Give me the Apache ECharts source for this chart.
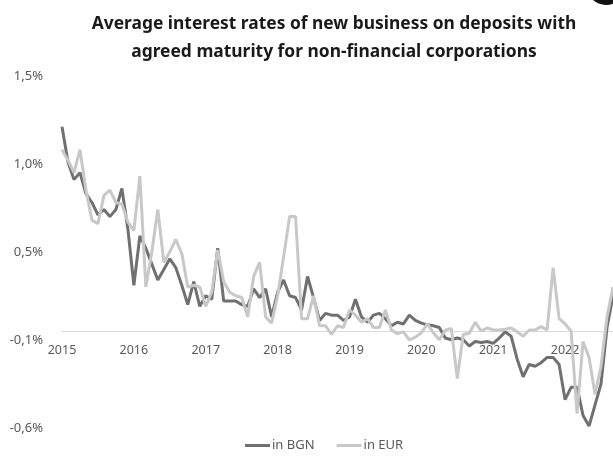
<!DOCTYPE html>
<html>
<head>
<meta charset="utf-8">
<script src="https://cdn.jsdelivr.net/npm/echarts@6/dist/echarts.min.js"></script>
<style>html,body{margin:0;padding:0;background:#fff;}#c{width:613px;height:458px;}</style>
</head>
<body>
<div id="c"></div>
<script>
const titleText = 'Average interest rates of new business on deposits with\nagreed maturity for non-financial corporations';
const years = ['2015','2016','2017','2018','2019','2020','2021','2022'];
const yTickLabels = ['-0,6%','-0,1%','0,5%','1,0%','1,5%'];
const seriesNames = ['in BGN','in EUR'];

const bgn = [
 1.16,0.96,0.86,0.90,0.78,0.73,0.66,0.69,0.65,0.69,0.81,0.58,
 0.26,0.54,0.47,0.38,0.29,0.35,0.41,0.36,0.26,0.15,0.28,0.14,
 0.20,0.18,0.47,0.17,0.17,0.17,0.15,0.14,0.24,0.19,0.24,0.08,
 0.22,0.29,0.20,0.19,0.12,0.31,0.19,0.06,0.10,0.09,0.09,0.06,
 0.08,0.18,0.08,0.05,0.09,0.10,0.07,0.03,0.05,0.04,0.09,0.06,
 0.045,0.035,0.03,0.02,-0.04,-0.05,-0.04,-0.05,-0.085,-0.06,-0.065,-0.06,
 -0.07,-0.04,-0.005,-0.03,-0.16,-0.26,-0.19,-0.20,-0.18,-0.15,-0.15,-0.19,
 -0.39,-0.32,-0.32,-0.48,-0.54,-0.42,-0.30,0.02,0.20
];
const eur = [
 1.03,0.97,0.90,1.03,0.80,0.63,0.61,0.77,0.80,0.73,0.72,0.62,
 0.57,0.88,0.25,0.45,0.69,0.39,0.45,0.52,0.44,0.25,0.26,0.25,
 0.14,0.22,0.46,0.28,0.22,0.20,0.19,0.08,0.31,0.39,0.08,0.045,
 0.20,0.42,0.65,0.65,0.07,0.07,0.20,0.03,0.03,-0.02,0.03,0.02,
 0.12,0.09,0.05,0.07,0.02,0.02,0.12,0.006,-0.015,-0.005,-0.05,-0.035,
 -0.01,0.04,-0.01,-0.05,0.005,0.015,-0.27,-0.02,-0.013,0.05,0.0,0.017,
 0.006,0.006,0.01,0.017,-0.004,-0.03,0.006,0.006,0.025,0.006,0.36,0.07,
 0.04,0.0,-0.47,-0.06,-0.15,-0.36,-0.20,0.08,0.25
];

const categories = [];
years.forEach(y => { for (let m = 1; m <= 12; m++) categories.push(y + '-' + (m < 10 ? '0' + m : m)); });
categories.length = bgn.length;

const chart = echarts.init(document.getElementById('c'));
const font = 'Noto Sans';
chart.setOption({
  animation: false,
  backgroundColor: '#ffffff',
  title: {
    text: titleText,
    left: 329,
    top: 5,
    textAlign: 'center',
    textStyle: { fontFamily: font, fontWeight: 'bold', fontSize: 17.4, lineHeight: 28, color: '#1a1a1a' }
  },
  graphic: [{ type: 'circle', shape: { cx: 606, cy: -14, r: 19 }, style: { fill: '#111' } }],
  legend: {
    data: seriesNames,
    bottom: 1,
    left: 240,
    icon: 'rect',
    itemWidth: 25,
    itemHeight: 3,
    itemGap: 22,
    textStyle: { fontFamily: font, fontSize: 13, color: '#595959', padding: [0, 0, 0, -3] }
  },
  grid: { left: 62, top: 75.8, width: 552, height: 352 },
  xAxis: {
    type: 'category',
    boundaryGap: false,
    data: categories,
    axisLine: { onZero: true, lineStyle: { color: '#d9d9d9', width: 1 } },
    axisTick: { show: false },
    splitLine: { show: false },
    axisLabel: {
      interval: function (i) { return i % 12 === 0; },
      formatter: function (v) { return v.slice(0, 4); },
      margin: -83.8,
      fontFamily: font, fontSize: 12.5, color: '#595959'
    }
  },
  yAxis: {
    type: 'value',
    min: -0.55, max: 1.45, interval: 0.5,
    axisLine: { show: false },
    axisTick: { show: false },
    splitLine: { show: false },
    axisLabel: {
      margin: 19,
      fontFamily: font, fontSize: 13, color: '#595959',
      formatter: function (v) { return yTickLabels[Math.round((v + 0.55) / 0.5)]; }
    }
  },
  series: [
    { name: seriesNames[0], type: 'line', data: bgn, symbol: 'none', lineStyle: { color: '#707070', width: 3 }, itemStyle: { color: '#707070' } },
    { name: seriesNames[1], type: 'line', data: eur, symbol: 'none', lineStyle: { color: '#c8c8c8', width: 3 }, itemStyle: { color: '#c8c8c8' } }
  ]
});
</script>
</body>
</html>
